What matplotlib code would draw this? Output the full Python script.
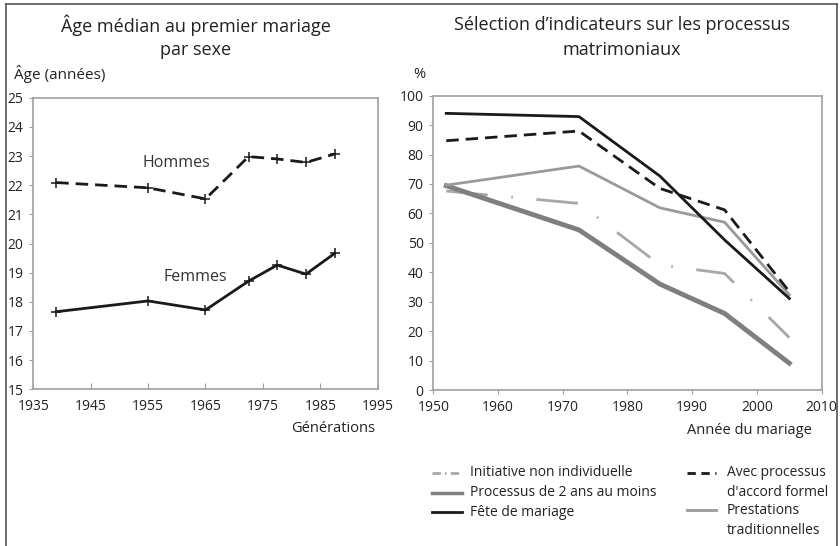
import matplotlib
matplotlib.use("Agg")
import matplotlib.pyplot as plt
from matplotlib.lines import Line2D

plt.rcParams['font.family'] = ['Open Sans', 'DejaVu Sans']
plt.rcParams['lines.scale_dashes'] = False

# ---- Left chart data ----
gen_years = [1939, 1955, 1965, 1972.5, 1977.5, 1982.5, 1987.5]
hommes = [22.09, 21.91, 21.53, 22.98, 22.90, 22.78, 23.07]
femmes = [17.66, 18.03, 17.72, 18.71, 19.26, 18.95, 19.66]
left_xticks = [1935, 1945, 1955, 1965, 1975, 1985, 1995]
left_yticks = list(range(15, 26))

# ---- Right chart data ----
mar_years = [1952, 1972.5, 1985, 1995, 2005]
initiative = [67.6, 63.4, 42.5, 39.6, 17.8]
processus2 = [69.4, 54.4, 36.0, 26.0, 9.1]
fete = [94.0, 92.9, 72.7, 51.0, 31.1]
accord = [84.7, 88.0, 68.5, 61.2, 33.4]
prestations = [69.6, 76.1, 61.9, 57.0, 32.3]
right_xticks = [1950, 1960, 1970, 1980, 1990, 2000, 2010]
right_yticks = list(range(0, 101, 10))

labels_col1 = ["Initiative non individuelle", "Processus de 2 ans au moins", "Fête de mariage"]
labels_col2 = ["Avec processus\nd'accord formel", "Prestations\ntraditionnelles"]

W, H = 840, 546
fig = plt.figure(figsize=(W / 100, H / 100), dpi=100)

spine_col = '#a0a0a0'
txt_col = '#222222'

def px(x, y):
    return x / W, 1 - y / H

# frame
fig.add_artist(Line2D([6 / W, 6 / W], [0, 1 - 4 / H], color='#555555', lw=1.2))
fig.add_artist(Line2D([6 / W, 837 / W], [1 - 4 / H, 1 - 4 / H], color='#555555', lw=1.2))
fig.add_artist(Line2D([837 / W, 837 / W], [0, 1 - 4 / H], color='#555555', lw=1.2))

# ---------- Left axes ----------
axL = fig.add_axes([33.3 / W, 1 - 389.3 / H, (377.7 - 33.3) / W, (389.3 - 97.7) / H])
axL.plot(gen_years, hommes, color='#1a1a1a', lw=2, dashes=(9, 5), marker='+', ms=6.5, mew=1.1)
axL.plot(gen_years, femmes, color='#1a1a1a', lw=2, marker='+', ms=6.5, mew=1.1)
axL.set_xlim(1935, 1995)
axL.set_ylim(15, 25)
axL.set_xticks(left_xticks)
axL.set_yticks(left_yticks)
axL.tick_params(axis='x', direction='in', length=4, color=spine_col, labelsize=10, pad=7, labelcolor=txt_col)
axL.tick_params(axis='y', direction='out', length=3, color=spine_col, labelsize=10, pad=4, labelcolor=txt_col)
for s in axL.spines.values():
    s.set_color(spine_col)
    s.set_linewidth(1.2)
axL.text(1959.9, 22.76, "Hommes", ha='center', va='center', fontsize=11.5, color='#333333')
axL.text(1963.2, 18.85, "Femmes", ha='center', va='center', fontsize=11.5, color='#333333')

fig.text(*px(196, 25), "Âge médian au premier mariage", ha='center', va='center', fontsize=13, color=txt_col)
fig.text(*px(196, 50), "par sexe", ha='center', va='center', fontsize=13, color=txt_col)
fig.text(*px(14, 74), "Âge (années)", ha='left', va='center', fontsize=11, color=txt_col)
fig.text(*px(375, 428), "Générations", ha='right', va='center', fontsize=10.5, color=txt_col)

# ---------- Right axes ----------
axR = fig.add_axes([433.3 / W, 1 - 390 / H, (821.7 - 433.3) / W, (390 - 95.7) / H])
styles = {
    'initiative': dict(color='#a8a8a8', lw=2, dashes=(30, 17, 1.2, 17)),
    'processus2': dict(color='#7f7f7f', lw=3.5),
    'fete': dict(color='#1a1a1a', lw=2),
    'accord': dict(color='#1a1a1a', lw=2, dashes=(9, 5)),
    'prestations': dict(color='#9a9a9a', lw=2),
}
axR.plot(mar_years, initiative, **styles['initiative'])
axR.plot(mar_years, processus2, **styles['processus2'])
axR.plot(mar_years, prestations, **styles['prestations'])
axR.plot(mar_years, accord, **styles['accord'])
axR.plot(mar_years, fete, **styles['fete'])
axR.set_xlim(1950, 2010)
axR.set_ylim(0, 100)
axR.set_xticks(right_xticks)
axR.set_yticks(right_yticks)
axR.tick_params(axis='both', direction='out', length=3, color=spine_col, labelsize=10, pad=4, labelcolor=txt_col)
for s in axR.spines.values():
    s.set_color(spine_col)
    s.set_linewidth(1.2)

fig.text(*px(622, 25), "Sélection d’indicateurs sur les processus", ha='center', va='center', fontsize=13, color=txt_col)
fig.text(*px(622, 50), "matrimoniaux", ha='center', va='center', fontsize=13, color=txt_col)
fig.text(*px(419, 75), "%", ha='center', va='center', fontsize=10.5, color=txt_col)
fig.text(*px(812, 431), "Année du mariage", ha='right', va='center', fontsize=10.5, color=txt_col)

# ---------- Legend (manual) ----------
leg_dashes = {
    'initiative': (6, 3, 1.2, 3),
    'accord': (6, 4),
}
col1_keys = ['initiative', 'processus2', 'fete']
col1_y = [473, 493, 512]
for key, lab, yy in zip(col1_keys, labels_col1, col1_y):
    st = dict(styles[key])
    if key in leg_dashes:
        st['dashes'] = leg_dashes[key]
    if key == 'processus2':
        st['lw'] = 2.5
    fig.add_artist(Line2D([432 / W, 462 / W], [1 - yy / H] * 2, **st))
    fig.text(*px(470, yy), lab, ha='left', va='center', fontsize=10, color=txt_col)

col2_keys = ['accord', 'prestations']
col2_y = [473, 510]
for key, lab, yy in zip(col2_keys, labels_col2, col2_y):
    st = dict(styles[key])
    if key in leg_dashes:
        st['dashes'] = leg_dashes[key]
    fig.add_artist(Line2D([687 / W, 716 / W], [1 - yy / H] * 2, **st))
    for i, line in enumerate(lab.split("\n")):
        fig.text(*px(727, yy + 20 * i), line, ha='left', va='center', fontsize=10, color=txt_col)

fig.savefig("out.png", dpi=100)
